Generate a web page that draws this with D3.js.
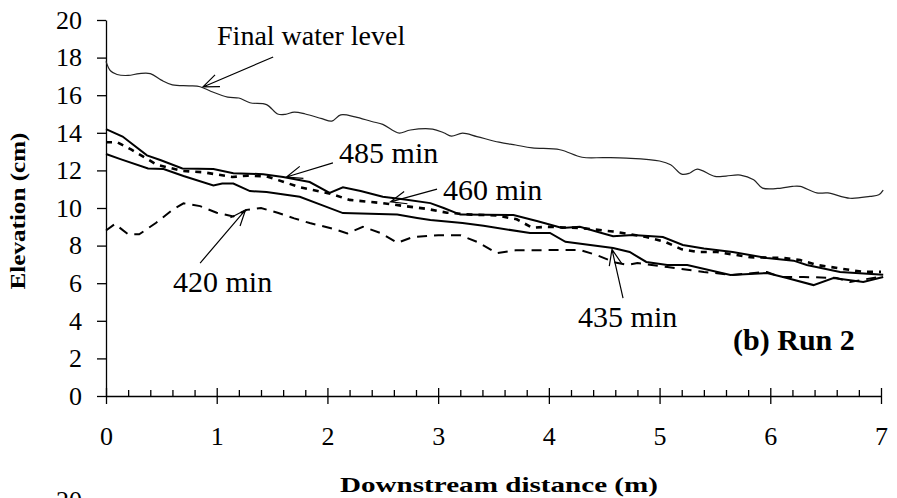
<!DOCTYPE html>
<html>
<head>
<meta charset="utf-8">
<script src="https://cdn.jsdelivr.net/npm/d3@7"></script>
<style>
  body { margin: 0; background: #fff; }
</style>
</head>
<body>
<div id="chart"></div>
<script>
var serif = "'Liberation Serif', 'Times New Roman', Times, serif";

// axis ticks
var distTicks = [0, 1, 2, 3, 4, 5, 6, 7];
var distMinor = [0.2, 0.4, 0.6, 0.8, 1.2, 1.4, 1.6, 1.8, 2.2, 2.4, 2.6, 2.8, 3.2, 3.4, 3.6, 3.8,
                 4.2, 4.4, 4.6, 4.8, 5.2, 5.4, 5.6, 5.8, 6.2, 6.4, 6.6, 6.8];
var elevTicks = [0, 2, 4, 6, 8, 10, 12, 14, 16, 18, 20];

// profiles, [distance (m), elevation (cm)]
var waterLevel = [[0,17.8],[0.04,17.3],[0.1,17.1],[0.2,17.05],[0.3,17.15],[0.4,17.15],[0.5,16.8],
  [0.6,16.55],[0.75,16.5],[0.85,16.45],[0.95,16.2],[1.1,15.9],[1.2,15.85],[1.3,15.6],[1.45,15.5],
  [1.55,15.0],[1.62,14.98],[1.7,15.1],[1.8,15.0],[1.95,14.75],[2.04,14.62],[2.12,14.95],[2.25,14.85],
  [2.4,14.6],[2.5,14.45],[2.6,14.1],[2.65,13.98],[2.75,14.15],[2.95,14.2],[3.05,14.0],[3.12,13.82],
  [3.22,13.98],[3.35,13.8],[3.55,13.5],[3.7,13.35],[3.85,13.2],[4.1,13.1],[4.3,12.7],[4.5,12.68],
  [4.7,12.65],[5.0,12.5],[5.1,12.3],[5.2,11.8],[5.27,11.85],[5.34,12.07],[5.5,11.68],[5.6,11.7],
  [5.73,11.75],[5.85,11.5],[5.93,11.06],[6.1,11.06],[6.2,11.15],[6.27,11.15],[6.42,10.8],[6.52,10.8],
  [6.72,10.52],[6.9,10.62],[6.98,10.7],[7.02,10.95]];

var bed485 = [[0,14.2],[0.15,13.8],[0.37,12.8],[0.49,12.55],[0.69,12.1],[0.97,12.07],[1.15,11.85],
  [1.42,11.8],[1.6,11.65],[1.84,11.38],[2.02,10.8],[2.14,11.1],[2.3,10.9],[2.5,10.6],[2.7,10.45],
  [2.93,10.26],[3.05,10.0],[3.2,9.65],[3.68,9.63],[3.9,9.3],[4.12,8.94],[4.28,9.0],[4.46,8.7],
  [4.58,8.5],[4.76,8.56],[5.03,8.46],[5.21,8.03],[5.4,7.85],[5.66,7.66],[5.97,7.34],[6.21,7.2],
  [6.33,6.97],[6.63,6.6],[7.02,6.45]];

var bed460 = [[0,13.5],[0.1,13.5],[0.23,13.1],[0.46,12.3],[0.69,11.97],[0.88,11.9],[1.14,11.65],
  [1.28,11.72],[1.45,11.68],[1.6,11.4],[1.75,11.1],[1.87,10.96],[2.04,10.74],[2.2,10.43],[2.5,10.26],
  [2.7,10.1],[2.9,9.95],[3.08,9.75],[3.3,9.65],[3.53,9.6],[3.71,9.4],[3.85,8.95],[3.98,9.0],
  [4.28,8.94],[4.58,8.75],[4.88,8.46],[5.05,8.2],[5.2,7.8],[5.34,7.66],[5.52,7.66],[5.82,7.38],
  [6.12,7.34],[6.27,7.23],[6.42,6.97],[6.84,6.6],[7.0,6.6]];

var bed435 = [[0,12.87],[0.13,12.6],[0.38,12.1],[0.52,12.07],[0.7,11.7],[0.97,11.2],[1.05,11.3],
  [1.15,11.3],[1.3,10.9],[1.45,10.85],[1.75,10.6],[1.95,10.15],[2.14,9.73],[2.63,9.65],[2.81,9.47],
  [2.93,9.36],[3.22,9.2],[3.41,9.05],[3.83,8.67],[4.01,8.67],[4.15,8.2],[4.58,7.87],[4.73,7.66],
  [4.88,7.13],[5.07,6.97],[5.25,6.97],[5.64,6.44],[5.97,6.54],[6.15,6.28],[6.39,5.9],[6.57,6.28],
  [6.84,6.06],[7.02,6.33]];

var bed420 = [[0,8.8],[0.08,9.15],[0.2,8.6],[0.3,8.6],[0.45,9.2],[0.6,9.9],[0.7,10.25],[0.85,10.1],
  [1.0,9.75],[1.15,9.55],[1.27,9.9],[1.4,10.0],[1.55,9.75],[1.7,9.45],[1.84,9.2],[2.05,8.9],
  [2.18,8.65],[2.32,9.0],[2.48,8.67],[2.63,8.15],[2.77,8.45],[3.0,8.55],[3.2,8.55],[3.35,8.2],
  [3.53,7.6],[3.7,7.75],[4.28,7.77],[4.43,7.5],[4.6,7.1],[4.71,6.97],[4.8,7.07],[5.07,6.86],
  [5.4,6.6],[5.66,6.44],[5.97,6.6],[6.09,6.33],[6.3,6.33],[6.6,6.28],[6.72,6.06],[6.85,6.2],[7.0,6.35]];

// labels: text, anchor [d, v], arrow tail [d, v], arrow tip [d, v]
var labelText = ["Final water level", "485 min", "460 min", "420 min", "435 min"];
var labelAt = [[1.003, 18.67], [2.105, 12.39], [3.044, 10.43], [0.605, 5.53], [4.264, 3.67]];
var arrowFrom = [[1.51, 18.03], [2.05, 12.4], [2.99, 11.0], [0.85, 7.07], [4.67, 5.2]];
var arrowTo = [[0.876, 16.44], [1.63, 11.65], [2.57, 10.33], [1.26, 9.9], [4.57, 7.8]];

var W = 897, H = 498;
var svg = d3.select("#chart").append("svg")
    .attr("width", W)
    .attr("height", H)
    .style("font-family", serif);

var x = d3.scaleLinear().domain([0, 7]).range([106, 881]);
var y = d3.scaleLinear().domain([0, 20]).range([396, 20]);

// y axis
svg.append("g")
    .attr("transform", "translate(" + x(0) + ",0)")
    .call(d3.axisLeft(y).tickValues(elevTicks).tickSize(9).tickSizeOuter(0).tickPadding(15)
        .tickFormat(d3.format("d")))
    .call(function(g) {
        g.attr("font-family", null).attr("font-size", null);
        g.selectAll("path, line").attr("stroke", "#000").attr("stroke-width", 1.3);
        g.selectAll("text").style("font-size", "26px").style("font-family", serif).attr("fill", "#000");
    });

// x axis, minor ticks first
svg.append("g")
    .attr("transform", "translate(0," + y(0) + ")")
    .call(d3.axisBottom(x).tickValues(distMinor).tickSize(-6).tickSizeOuter(0).tickFormat(""))
    .call(function(g) {
        g.select(".domain").remove();
        g.selectAll("line").attr("stroke", "#000").attr("stroke-width", 1.3);
    });

svg.append("g")
    .attr("transform", "translate(0," + y(0) + ")")
    .call(d3.axisBottom(x).tickValues(distTicks).tickSize(8).tickSizeOuter(0)
        .tickFormat(d3.format("d")))
    .call(function(g) {
        g.attr("font-family", null).attr("font-size", null);
        g.selectAll("path, line").attr("stroke", "#000").attr("stroke-width", 1.3);
        g.selectAll(".tick line").attr("y1", -8).attr("y2", 8);
        g.selectAll("text").style("font-size", "26px").style("font-family", serif)
            .attr("fill", "#000").attr("y", 49).attr("dy", null);
    });

// axis titles
svg.append("text")
    .attr("x", 499)
    .attr("y", 492)
    .attr("text-anchor", "middle")
    .attr("textLength", 318)
    .attr("lengthAdjust", "spacingAndGlyphs")
    .style("font-size", "21px")
    .style("font-weight", "bold")
    .text("Downstream distance (m)");

svg.append("text")
    .attr("transform", "translate(25,211) rotate(-90)")
    .attr("text-anchor", "middle")
    .attr("textLength", 157)
    .attr("lengthAdjust", "spacingAndGlyphs")
    .style("font-size", "21px")
    .style("font-weight", "bold")
    .text("Elevation (cm)");

// top of the next panel's axis label, cut by the frame as in the source
svg.append("text")
    .attr("x", 82)
    .attr("y", 509)
    .attr("text-anchor", "end")
    .style("font-size", "26px")
    .text("20");

var line = d3.line()
    .x(function(d) { return x(d[0]); })
    .y(function(d) { return y(d[1]); });

var smooth = d3.line()
    .x(function(d) { return x(d[0]); })
    .y(function(d) { return y(d[1]); })
    .curve(d3.curveCatmullRom.alpha(0.5));

svg.append("path")
    .datum(waterLevel)
    .attr("d", smooth)
    .attr("fill", "none")
    .attr("stroke", "#222")
    .attr("stroke-width", 1.2);

svg.append("path")
    .datum(bed420)
    .attr("d", line)
    .attr("fill", "none")
    .attr("stroke", "#000")
    .attr("stroke-width", 2)
    .attr("stroke-dasharray", "10,7");

svg.append("path")
    .datum(bed460)
    .attr("d", line)
    .attr("fill", "none")
    .attr("stroke", "#000")
    .attr("stroke-width", 2.6)
    .attr("stroke-dasharray", "6,6");

svg.append("path")
    .datum(bed435)
    .attr("d", line)
    .attr("fill", "none")
    .attr("stroke", "#000")
    .attr("stroke-width", 2);

svg.append("path")
    .datum(bed485)
    .attr("d", line)
    .attr("fill", "none")
    .attr("stroke", "#000")
    .attr("stroke-width", 2);

// arrows with open heads
labelText.forEach(function(t, i) {
    var x1 = x(arrowFrom[i][0]), y1 = y(arrowFrom[i][1]);
    var x2 = x(arrowTo[i][0]), y2 = y(arrowTo[i][1]);
    var a = Math.atan2(y1 - y2, x1 - x2);
    var len = 17, spread = 0.38;
    svg.append("path")
        .attr("d", "M" + x1 + "," + y1 + "L" + x2 + "," + y2 +
            "M" + (x2 + len * Math.cos(a + spread)) + "," + (y2 + len * Math.sin(a + spread)) +
            "L" + x2 + "," + y2 +
            "L" + (x2 + len * Math.cos(a - spread)) + "," + (y2 + len * Math.sin(a - spread)))
        .attr("fill", "none")
        .attr("stroke", "#000")
        .attr("stroke-width", 1.2);

    svg.append("text")
        .attr("x", x(labelAt[i][0]))
        .attr("y", y(labelAt[i][1]))
        .style("font-size", i == 0 ? "28px" : "30px")
        .text(t);
});

svg.append("text")
    .attr("x", x(5.664))
    .attr("y", y(2.45))
    .style("font-size", "30px")
    .style("font-weight", "bold")
    .text("(b) Run 2");
</script>
</body>
</html>
